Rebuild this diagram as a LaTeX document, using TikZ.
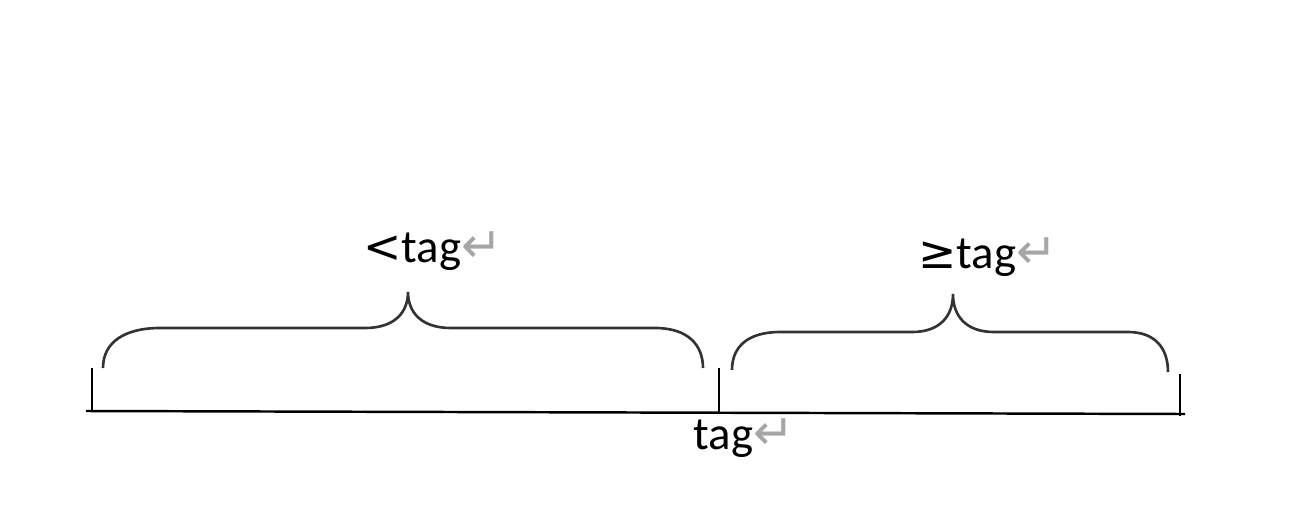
\documentclass[tikz,border=0pt]{standalone}
\usepackage{fontspec}
\setmainfont{Carlito}
\newfontfamily\symfont{DejaVu Sans}
\usepackage{tikz}

\newcommand{\retmark}{{\symfont\color{gray!70}\fontsize{14pt}{14pt}\selectfont ↵}}
\newcommand{\relmark}[1]{{\symfont\fontsize{13pt}{13pt}\selectfont #1}}

\tikzset{
	bracepath/.style={line width=0.75pt, draw=black!80},
	tickline/.style={line width=0.7pt},
	lbl/.style={font=\fontsize{13.3pt}{15pt}\selectfont, inner sep=0pt, anchor=base}
}

\begin{document}
\begin{tikzpicture}[x=0.01cm, y=-0.01cm]
	\useasboundingbox (0,0) rectangle (1314,530);
	
	% axis and ticks
	\coordinate (start) at (86,411);
	\coordinate (finish) at (1185,414);
	\coordinate (lo) at (92,411);
	\coordinate (mid) at (719,412);
	\coordinate (hi) at (1180,416);
	\draw [tickline] (start) -- (finish);
	\draw [tickline] (lo) -- ++(0,-43);
	\draw [tickline] (mid) -- ++(0,-44);
	\draw [tickline] (hi) -- ++(0,-42);
	
	\node [lbl] (tagmark) at (744,449) {tag\retmark};
	
	% left brace
	\draw [bracepath] (103,368) .. controls (103,342) and (125,328) .. (160,328)
		-- (365,328) .. controls (395,328) and (408,312) .. (408,292)
		.. controls (408,312) and (421,328) .. (451,328)
		-- (655,328) .. controls (688,328) and (703,345) .. (703,368);
	\node [lbl] (below) at (433,262) {\relmark{<}tag\retmark};
	
	% right brace
	\draw [bracepath] (732,370) .. controls (732,345) and (750,332) .. (780,332)
		-- (912,332) .. controls (940,332) and (953,316) .. (953,294)
		.. controls (953,316) and (966,332) .. (994,332)
		-- (1128,332) .. controls (1155,332) and (1168,348) .. (1168,372);
	\node [lbl] (above) at (988,268) {\relmark{≥}tag\retmark};
\end{tikzpicture}
\end{document}
